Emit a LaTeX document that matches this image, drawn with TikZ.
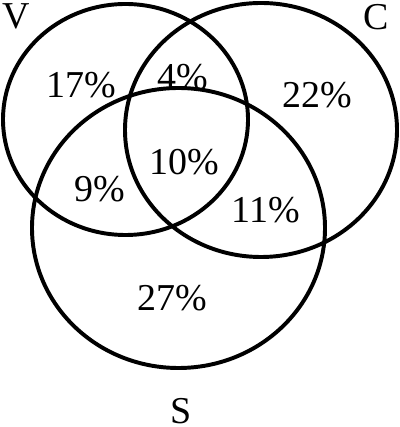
\documentclass[tikz,border=0pt]{standalone}
\usepackage{fontspec}
\setmainfont{Liberation Serif}
\usepackage{tikz}
\usetikzlibrary{positioning}
\tikzstyle{setring} = [line width=2.8pt, draw=black]
\tikzstyle{setname} = [inner sep=0pt, font=\fontsize{27}{30}\selectfont]
\tikzstyle{share} = [inner sep=0pt, font=\fontsize{27}{30}\selectfont]

\begin{document}
\begin{tikzpicture}[x=0.025cm, y=0.025cm]
    \useasboundingbox (0,0) rectangle (400,427);

    % Sets
    \draw[setring] (125.5,307.5) ellipse [x radius=122.5, y radius=115.5];
    \draw[setring] (261,297) ellipse [x radius=136, y radius=127];
    \draw[setring] (178.5,199) ellipse [x radius=146.5, y radius=140];

    % Set names
    \node[setname] (v) at (16,411) {V};
    \node[setname] (c) at (376,410) {C};
    \node[setname] (s) at (181,16) {S};

    % Shares
    \node[share] (vonly) at (81,342) {17\%};
    \node[share] (vc) at (183,350) {4\%};
    \node[share] (conly) at (317,332) {22\%};
    \node[share] (vcs) at (184,265) {10\%};
    \node[share] (vs) at (100,238) {9\%};
    \node[share] (cs) at (266,217) {11\%};
    \node[share] (sonly) at (172,129) {27\%};
\end{tikzpicture}
\end{document}
